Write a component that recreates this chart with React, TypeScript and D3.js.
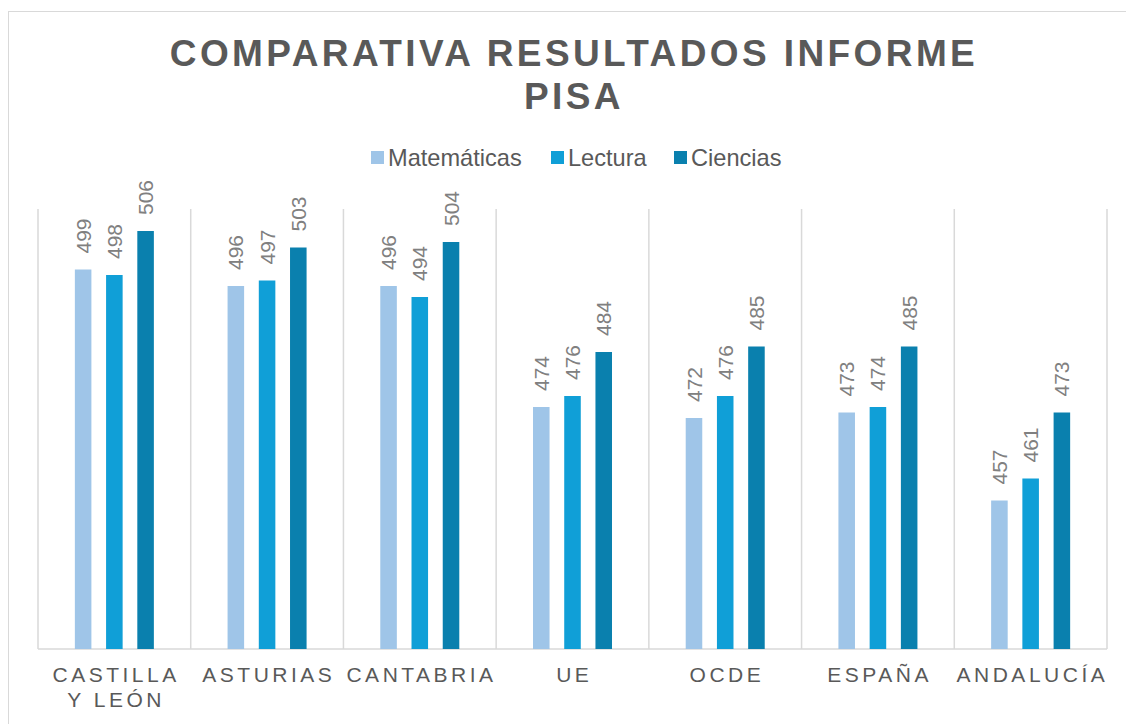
import React from "react";
import * as d3 from "d3";

const categories = [["CASTILLA", "Y LEÓN"], ["ASTURIAS"], ["CANTABRIA"], ["UE"], ["OCDE"], ["ESPAÑA"], ["ANDALUCÍA"]];
const series = ["Matemáticas", "Lectura", "Ciencias"];
const matematicas = [499, 496, 496, 474, 472, 473, 457];
const lectura = [498, 497, 494, 476, 476, 474, 461];
const ciencias = [506, 503, 504, 484, 485, 485, 473];
const colors = ["#9fc5e8", "#109fd7", "#0a80ae"];

const W = 1126,
  H = 724;
const font = "'Liberation Sans', Arial, sans-serif";

export default function App() {
  const values = [matematicas, lectura, ciencias];
  const keys = categories.map((c) => c.join(" "));
  const x0 = d3.scaleBand().domain(keys).range([38, 1107]).padding(0);
  const x1 = d3
    .scaleBand()
    .domain(series)
    .range([0, x0.bandwidth()])
    .paddingInner(0.47)
    .paddingOuter(1.18);
  const y = d3.scaleLinear().domain([430, 510]).range([649, 209]);

  return (
    <svg width={W} height={H} style={{ position: "absolute", left: 0, top: 0, fontFamily: font }}>
      <rect x={0} y={0} width={W} height={H} fill="#fff" />
      <rect x={8.5} y={11.5} width={W + 10} height={H + 10} fill="none" stroke="#d9d9d9" strokeWidth={1} />

      <text textAnchor="middle" fill="#595959" fontSize={37} fontWeight="bold" letterSpacing={3.4}>
        <tspan x={574} y={66}>COMPARATIVA RESULTADOS INFORME</tspan>
        <tspan x={574} y={109}>PISA</tspan>
      </text>

      {/* legend */}
      {series.map((s, i) => {
        const lx = [371, 551, 674][i];
        return (
          <g key={s}>
            <rect x={lx} y={151} width={13} height={13} fill={colors[i]} />
            <text x={lx + 17} y={166} fontSize={23.6} fill="#595959">
              {s}
            </text>
          </g>
        );
      })}

      {/* gridlines */}
      {[...keys, null].map((k, i) => {
        const gx = k ? x0(k)! : x0.range()[1];
        return <line key={i} x1={gx} x2={gx} y1={y(510)} y2={y(430)} stroke="#d9d9d9" strokeWidth={1.5} />;
      })}
      <line x1={x0.range()[0]} x2={x0.range()[1]} y1={y(430)} y2={y(430)} stroke="#d9d9d9" strokeWidth={1.5} />

      {/* bars */}
      {keys.map((k, ci) => (
        <g key={k} transform={`translate(${x0(k)},0)`}>
          {series.map((s, si) => {
            const v = values[si][ci];
            const bx = x1(s)!;
            const cx = bx + x1.bandwidth() / 2;
            return (
              <g key={s}>
                <rect x={bx} y={y(v)} width={x1.bandwidth()} height={y(430) - y(v)} fill={colors[si]} />
                <text
                  transform={`translate(${cx},${y(v) - 16}) rotate(-90)`}
                  dy="0.36em"
                  fontSize={21}
                  fill="#808080"
                >
                  {v}
                </text>
              </g>
            );
          })}
        </g>
      ))}

      {/* category labels */}
      {categories.map((lines, ci) => {
        const cx = x0(keys[ci])! + x0.bandwidth() / 2;
        return (
          <text key={ci} textAnchor="middle" fontSize={21} fill="#595959" letterSpacing={3.5}>
            {lines.map((l, li) => (
              <tspan key={li} x={cx + 1.75} y={682 + li * 25}>
                {l}
              </tspan>
            ))}
          </text>
        );
      })}
    </svg>
  );
}
